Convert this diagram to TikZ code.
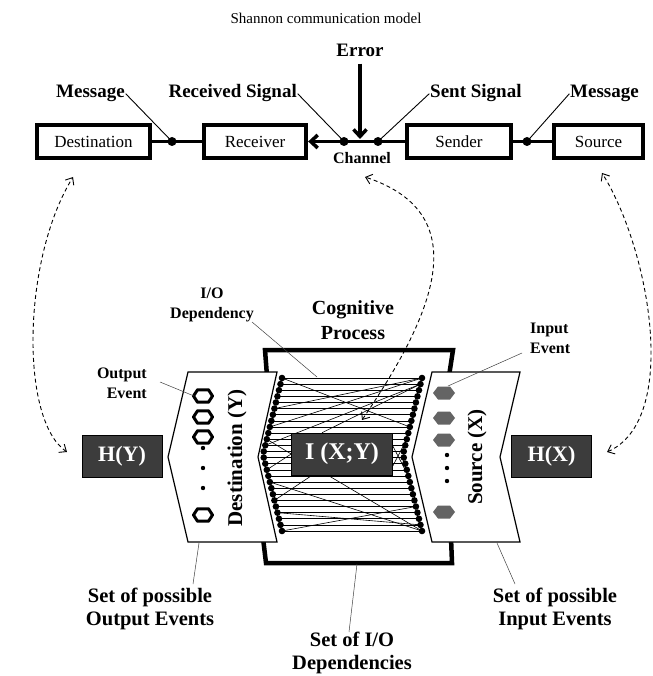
\documentclass[tikz,border=0pt]{standalone}
\usepackage{fontspec}
\setmainfont{Liberation Serif}
\usetikzlibrary{arrows.meta,backgrounds}
\definecolor{darkbox}{RGB}{60,60,60}
\definecolor{hexgray}{RGB}{100,100,100}
\begin{document}
\begin{tikzpicture}[x=1pt,y=-1pt,
 topbox/.style={draw, line width=3.8pt, minimum height=33.5pt, inner sep=0pt, font=\fontsize{17}{19}\selectfont},
 toplbl/.style={font=\bfseries\fontsize{19}{21}\selectfont, inner sep=0pt},
 thickline/.style={line width=3.5pt},
 leader/.style={line width=0.9pt},
 thinleader/.style={line width=0.5pt, black!75},
 sdot/.style={circle, fill=black, inner sep=0pt, minimum size=9pt},
 dasharrow/.style={line width=0.9pt, dash pattern=on 4pt off 3pt, {Straight Barb[length=6pt,width=10pt]}-{Straight Barb[length=6pt,width=10pt]}},
 hbox/.style={draw=black, line width=0.6pt, fill=darkbox, text=white, font=\bfseries\fontsize{22}{24}\selectfont, minimum width=80pt, minimum height=42pt, inner sep=0pt},
 panel/.style={draw, line width=1.2pt, fill=white, line join=miter},
 midlbl/.style={font=\bfseries\fontsize{16}{20}\selectfont, align=center, inner sep=0pt},
 biglbl/.style={font=\bfseries\fontsize{20.5}{23}\selectfont, align=center, inner sep=0pt},
 rotlbl/.style={font=\bfseries\fontsize{21}{23}\selectfont, rotate=90, inner sep=0pt},
 frameline/.style={line width=4.5pt, line join=miter},
 iodep/.style={line width=0.6pt},
]
\useasboundingbox (0,0) rectangle (652,676);
\node[font=\fontsize{15}{17}\selectfont] (title) at (326,18) {Shannon communication model};

% top row
\node[topbox, minimum width=113.5pt] (dest) at (93.5,141.5) {Destination};
\node[topbox, minimum width=102.5pt] (recv) at (255,141.5) {Receiver};
\node[topbox, minimum width=104.5pt] (send) at (459,141.5) {Sender};
\node[topbox, minimum width=89.5pt] (src) at (598.5,141.5) {Source};
\draw[thickline] (dest) -- (recv);
\draw[thickline] (src) -- (send);
\draw[thickline, -{Straight Barb[length=7pt,width=13pt]}] (send) -- (recv);
\node[sdot] (m1) at (172,141.5) {};
\node[sdot] (rs) at (344,141.5) {};
\node[sdot] (ss) at (378,141.5) {};
\node[sdot] (m2) at (527,141.5) {};
\node[toplbl] (err) at (360,50) {Error};
\coordinate (errpt) at (360,139);
\draw[thickline, -{Straight Barb[length=7pt,width=13pt]}, shorten <=7pt] (err.south) -- (errpt);
\node[toplbl, anchor=east] (msg1) at (125,93) {Message};
\node[toplbl, anchor=east] (rsig) at (297,93) {Received Signal};
\node[toplbl, anchor=west] (ssig) at (430,93) {Sent Signal};
\node[toplbl, anchor=west] (msg2) at (570,93) {Message};
\node[font=\bfseries\fontsize{16}{18}\selectfont, inner sep=0pt] (chan) at (362,158) {Channel};
\draw[leader, shorten <=1pt] (msg1.east) -- (m1.center);
\draw[leader, shorten <=1pt] (rsig.east) -- (rs.center);
\draw[leader, shorten <=1pt] (ssig.west) -- (ss.center);
\draw[leader, shorten <=1pt] (msg2.west) -- (m2.center);

% cognitive process frame
\draw[frameline] (267,376) -- (265,350) -- (453,350) -- (449,376);
\draw[frameline] (263,538) -- (266,563) -- (452,563) -- (451,538);

% dot columns
\foreach \i in {0,...,25}{
  \pgfmathsetmacro{\yy}{378+153*\i/25}
  \pgfmathsetmacro{\dx}{19*abs(2*\i/25-1)}
  \coordinate (L\i) at (263+\dx,\yy);
  \coordinate (R\i) at (403+\dx,\yy);
}
\node[hbox, minimum width=101pt, minimum height=42pt, font=\bfseries\fontsize{24}{26}\selectfont] (I) at (342,454) {I (X;Y)};
\begin{pgfonlayer}{background}
\foreach \i in {0,...,25} \draw[iodep] (L\i) -- (R\i);
\foreach \a/\b in {L0/R8, R0/L8, L5/R0, L11/R1, L17/R25, L22/R24, L25/R21}
  \draw[iodep] (\a) -- (\b);
\draw[iodep] (L10) -- (I.west) -- (L15);
\draw[iodep] (R10) -- ([yshift=-12pt]I.east);
\draw[iodep] (R16) -- ([yshift=8pt]I.east);
\draw[iodep] (L20) -- ([xshift=-30pt]I.south);
\draw[iodep] (R25) -- ([xshift=-14pt]I.south);
\draw[iodep] (R1) -- ([xshift=-20pt]I.north);
\end{pgfonlayer}
\foreach \i in {0,...,25}{\fill (L\i) circle (3.3); \fill (R\i) circle (3.3);}

% panels
\draw[panel] (188,372) -- (277,372) -- (258,457) -- (277,542) -- (188,542) -- (168,457) -- cycle;
\draw[panel] (432,372) -- (520,372) -- (500,457) -- (520,542) -- (432,542) -- (412,457) -- cycle;

\foreach \y in {396,417,437,515}
  \draw[line width=3pt, line join=round] (203,\y) ++(-9.5,0) -- ++(4,-6.2) -- ++(11,0) -- ++(4,6.2) -- ++(-4,6.2) -- ++(-11,0) -- cycle;
\foreach \y in {448,468,488} \fill (203,\y) circle (2.2);
\foreach \y in {393,418,440,512}
  \fill[hexgray] (444,\y) ++(-11,0) -- ++(5,-6.5) -- ++(12,0) -- ++(5,6.5) -- ++(-5,6.5) -- ++(-12,0) -- cycle;
\foreach \y in {455,468,481} \fill (447,\y) circle (2.2);

\node[rotlbl] (dy) at (237,458) {Destination (Y)};
\node[rotlbl] (sx) at (477,457) {Source (X)};

\node[hbox] (HY) at (122,456) {H(Y)};
\node[hbox] (HX) at (551.5,456) {H(X)};

% labels
\node[midlbl, align=right, anchor=east] (oe) at (147,383) {Output\\Event};
\node[midlbl, align=left, anchor=west] (ie) at (530,338) {Input\\Event};
\node[midlbl] (iod) at (212,305) {I/O\\Dependency};
\node[font=\bfseries\fontsize{20}{25}\selectfont, align=center, inner sep=0pt] (cp) at (353,320) {Cognitive\\Process};
\coordinate (oeA) at (160,382); \coordinate (hexA) at (194,396);
\draw[thinleader] (oeA) -- (hexA);
\coordinate (ieA) at (522,353); \coordinate (hexB) at (448,386);
\draw[thinleader] (ieA) -- (hexB);
\coordinate (iodA) at (252,322); \coordinate (iodB) at (317,377);
\draw[thinleader] (iodA) -- (iodB);

\node[biglbl] (sol) at (150,609) {Set of possible\\Output Events};
\node[biglbl] (sio) at (352,653) {Set of I/O\\Dependencies};
\node[biglbl] (sil) at (555,609) {Set of possible\\Input Events};
\coordinate (b1a) at (199,543); \coordinate (b1b) at (193,584);
\coordinate (b2a) at (357,564); \coordinate (b2b) at (349,632);
\coordinate (b3a) at (497,543); \coordinate (b3b) at (515,584);
\draw[thinleader] (b1a) -- (b1b);
\draw[thinleader] (b2a) -- (b2b);
\draw[thinleader] (b3a) -- (b3b);

% dashed correspondences
\coordinate (dl1) at (73,177); \coordinate (dl2) at (67,452);
\draw[dasharrow] (dl2) .. controls (20,420) and (22,260) .. (dl1);
\coordinate (dm1) at (365,177); \coordinate (dm2) at (362,420);
\draw[dasharrow] (dm2) .. controls (430,320) and (480,215) .. (dm1);
\coordinate (dr1) at (602,173); \coordinate (dr2) at (607,452);
\draw[dasharrow] (dr2) .. controls (680,420) and (650,250) .. (dr1);
\end{tikzpicture}
\end{document}
